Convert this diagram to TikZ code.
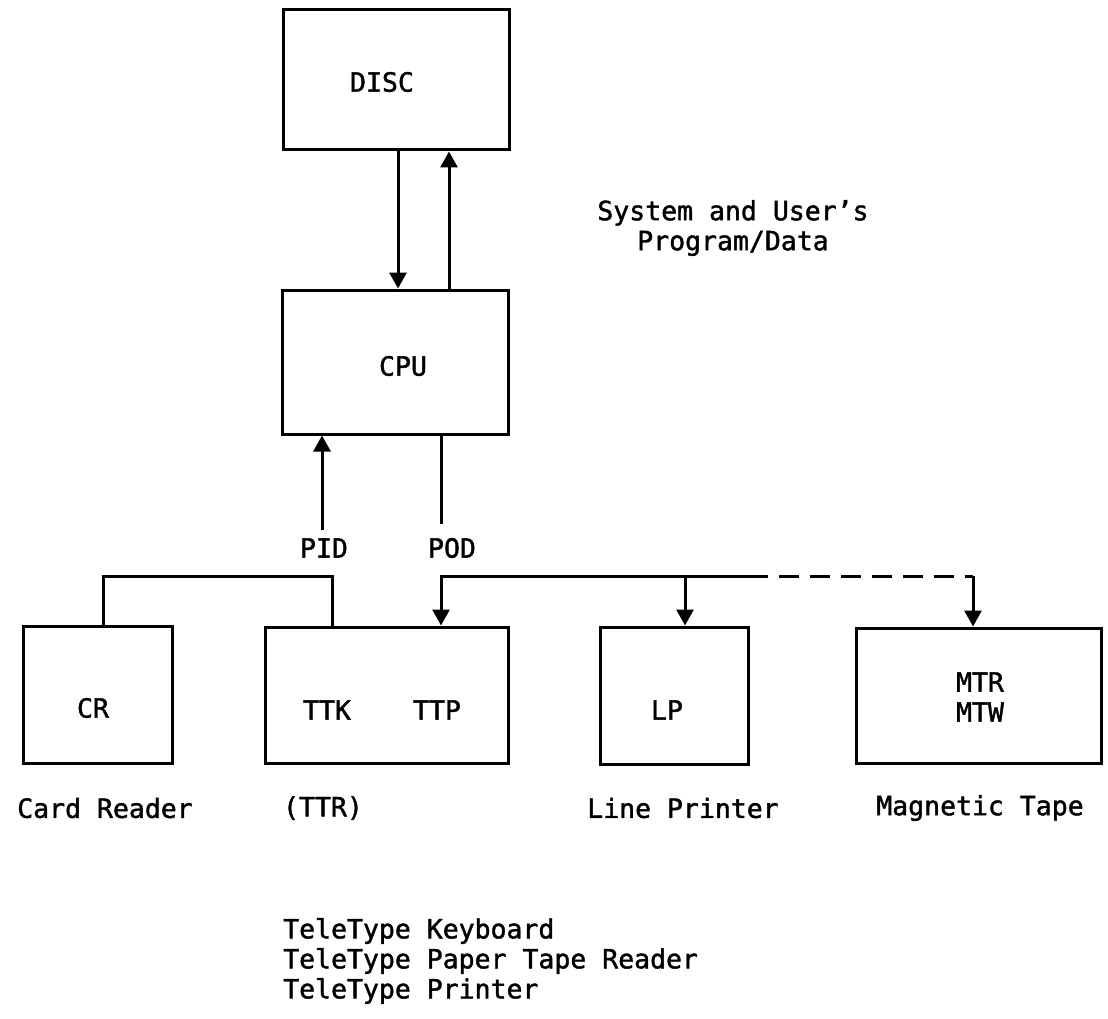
\documentclass[tikz,border=0pt]{standalone}
\usepackage{fontspec}
\setmainfont[FakeBold=1.5,AutoFakeBold=1.5]{DejaVu Sans Mono}
\usetikzlibrary{arrows.meta}
\tikzset{
  box/.style={draw, line width=3pt, rectangle, inner sep=0pt, anchor=center},
  conn/.style={line width=3pt},
  tip/.style={-{Triangle[width=17pt,length=16pt]}},
  txt/.style={font=\fontsize{26.5}{30}\selectfont\bfseries, inner sep=0pt, anchor=center},
}
\begin{document}
\begin{tikzpicture}[x=1pt,y=-1pt]
\useasboundingbox (0,0) rectangle (1108,1019);
% boxes
\node[box, minimum width=226pt, minimum height=140pt] (disc) at (396,80) {};
\node[box, minimum width=226pt, minimum height=144pt] (cpu) at (395,362) {};
\node[box, minimum width=149pt, minimum height=137pt] (cr) at (97.5,694.5) {};
\node[box, minimum width=243pt, minimum height=136pt] (ttr) at (386.5,695) {};
\node[box, minimum width=148pt, minimum height=137pt] (lp) at (674,695.5) {};
\node[box, minimum width=245pt, minimum height=135pt] (mt) at (978.5,695.5) {};
% box texts
\node[txt] (tdisc) at (382,82) {DISC};
\node[txt] (tcpu) at (403,366) {CPU};
\node[txt] (tcr) at (93,708) {CR};
\node[txt] (tttk) at (327,710) {TTK};
\node[txt] (tttp) at (437,710) {TTP};
\node[txt] (tlp) at (667,710) {LP};
\node[txt, align=center] (tmt) at (980,697) {MTR\\MTW};
% captions
\node[txt] (lcr) at (105,808) {Card Reader};
\node[txt] (lttr) at (323,808) {(TTR)};
\node[txt] (llp) at (683,808) {Line Printer};
\node[txt] (lmt) at (980,808) {Magnetic Tape};
\node[txt, align=center] (lsys) at (733,228) {System and User's\\Program/Data};
\node[txt, align=left, anchor=west] (ltt) at (283,961) {TeleType Keyboard\\TeleType Paper Tape Reader\\TeleType Printer};
\node[txt] (lpid) at (324,548) {PID};
\node[txt] (lpod) at (452,548) {POD};
% disc <-> cpu
\coordinate (d1) at (398,0);
\coordinate (d2) at (449,0);
\draw[conn, tip] (d1 |- disc.south) -- (d1 |- cpu.north);
\draw[conn, tip] (d2 |- cpu.north) -- (d2 |- disc.south);
% PID / POD
\coordinate (pid) at (322,530);
\draw[conn, tip] (pid) -- (pid |- cpu.south);
\coordinate (pod) at (441,524);
\draw[conn] (pod |- cpu.south) -- (pod);
% input bus
\coordinate (b1) at (103,576);
\coordinate (b2) at (332,576);
\draw[conn] (b1 |- cr.north) -- (b1) -- (b2) -- (b2 |- ttr.north);
% output bus
\coordinate (b3) at (441,576);
\coordinate (b4) at (685,576);
\coordinate (b5) at (748,576);
\coordinate (b6) at (973,576);
\draw[conn, tip] (b5) -- (b3) -- (b3 |- ttr.north);
\draw[conn, tip] (b4) -- (b4 |- lp.north);
\draw[conn, dash pattern=on 20pt off 11pt] (b5) -- (b6);
\draw[conn, tip] (b6) -- (b6 |- mt.north);
\end{tikzpicture}
\end{document}
